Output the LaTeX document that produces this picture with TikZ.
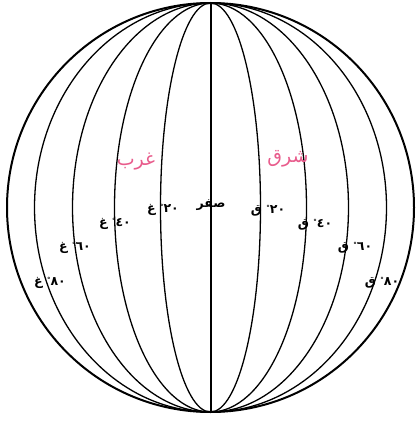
\documentclass[tikz,border=0pt]{standalone}
\usepackage{fontspec}
\newfontfamily\arabicfont[Script=Arabic]{DejaVu Sans}
\TeXXeTstate=1
\definecolor{pinkred}{RGB}{232,92,140}
\tikzset{
  globe/.style={line width=2pt},
  meridian/.style={line width=1.3pt},
  lbl/.style={font=\arabicfont\bfseries\fontsize{12.5}{14}\selectfont, inner sep=0pt},
  word/.style={font=\arabicfont\fontsize{19}{21}\selectfont, text=pinkred, inner sep=0pt}
}
\newcommand{\deglbl}[2]{\beginR\beginL #1\endL{}\raisebox{0.4ex}{\scriptsize °}\ #2\endR}
\begin{document}
\begin{tikzpicture}[x=1pt,y=-1pt]
\useasboundingbox (0,0) rectangle (418,425);
\coordinate (c) at (210.5,207.5);
\coordinate (np) at (210.5,3);
\coordinate (sp) at (210.5,412);
\foreach \a in {50,96,138,176}{
  \draw[meridian] (c) ellipse [x radius=\a, y radius=204.5];
}
\draw[globe] (c) ellipse [x radius=203.5, y radius=204.5];
\draw[globe] (np) -- (sp);
\node[word] (west) at (136,162) {\beginR غرب\endR};
\node[word] (east) at (288,159) {\beginR شرق\endR};
\node[lbl] (zero) at (211,205) {\beginR صفر\endR};
\node[lbl] (w20) at (163,210) {\deglbl{٢٠}{غ}};
\node[lbl] (w40) at (115,224) {\deglbl{٤٠}{غ}};
\node[lbl] (w60) at (75,248) {\deglbl{٦٠}{غ}};
\node[lbl] (w80) at (50,283) {\deglbl{٨٠}{غ}};
\node[lbl] (e20) at (268,211) {\deglbl{٢٠}{ق}};
\node[lbl] (e40) at (315,225) {\deglbl{٤٠}{ق}};
\node[lbl] (e60) at (355,248) {\deglbl{٦٠}{ق}};
\node[lbl] (e80) at (382,283) {\deglbl{٨٠}{ق}};
\end{tikzpicture}
\end{document}
